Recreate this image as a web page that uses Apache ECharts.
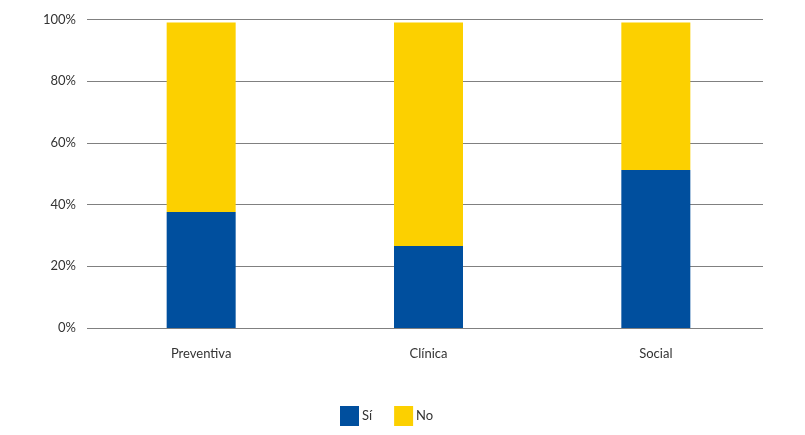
<!DOCTYPE html>
<html><head><meta charset="utf-8">
<script src="https://cdn.jsdelivr.net/npm/echarts@6/dist/echarts.min.js"></script>
<style>html,body{margin:0;padding:0;background:#fff}#c{width:805px;height:435px}</style>
</head><body><div id="c"></div>
<script>
const categories = ['Preventiva', 'Clínica', 'Social'];
const si = [37.6, 26.6, 51.2];
const no = [61.4, 72.4, 47.8];
const yTicks = [0, 20, 40, 60, 80, 100];

const chart = echarts.init(document.getElementById('c'));
chart.setOption({
  animation: false,
  textStyle: { fontFamily: 'Lato, sans-serif' },
  grid: [
    { left: 87, width: 676, top: 19.5, bottom: 107 },
    { left: 87.5, width: 682, top: 19.5, bottom: 107 }
  ],
  legend: {
    top: 406, left: 340, padding: 0, itemWidth: 19, itemHeight: 20, itemGap: 22,
    icon: 'rect',
    textStyle: { color: '#333', fontSize: 13, padding: [0, 0, 0, -2] },
    data: ['Sí', 'No']
  },
  xAxis: [
    { type: 'category', gridIndex: 0, data: categories, show: false },
    {
      type: 'category', gridIndex: 1, data: categories,
      axisLine: { show: false }, axisTick: { show: false },
      axisLabel: { color: '#333', fontSize: 13, margin: 19 }
    }
  ],
  yAxis: [
    {
      type: 'value', gridIndex: 0, min: 0, max: 100, interval: 20,
      axisLabel: { color: '#333', fontSize: 13, margin: 11, formatter: v => yTicks.includes(v) ? v + '%' : '' },
      splitLine: { lineStyle: { color: '#808080', width: 1 } },
      axisLine: { show: false }, axisTick: { show: false }
    },
    {
      type: 'value', gridIndex: 1, min: 0, max: 100, interval: 20, show: false,
      splitLine: { show: false }
    }
  ],
  series: [
    { name: 'Sí', type: 'bar', stack: 't', xAxisIndex: 1, yAxisIndex: 1, data: si, barWidth: 69, itemStyle: { color: '#004f9e' } },
    { name: 'No', type: 'bar', stack: 't', xAxisIndex: 1, yAxisIndex: 1, data: no, barWidth: 69, itemStyle: { color: '#fcd000' } }
  ]
});
</script></body></html>
